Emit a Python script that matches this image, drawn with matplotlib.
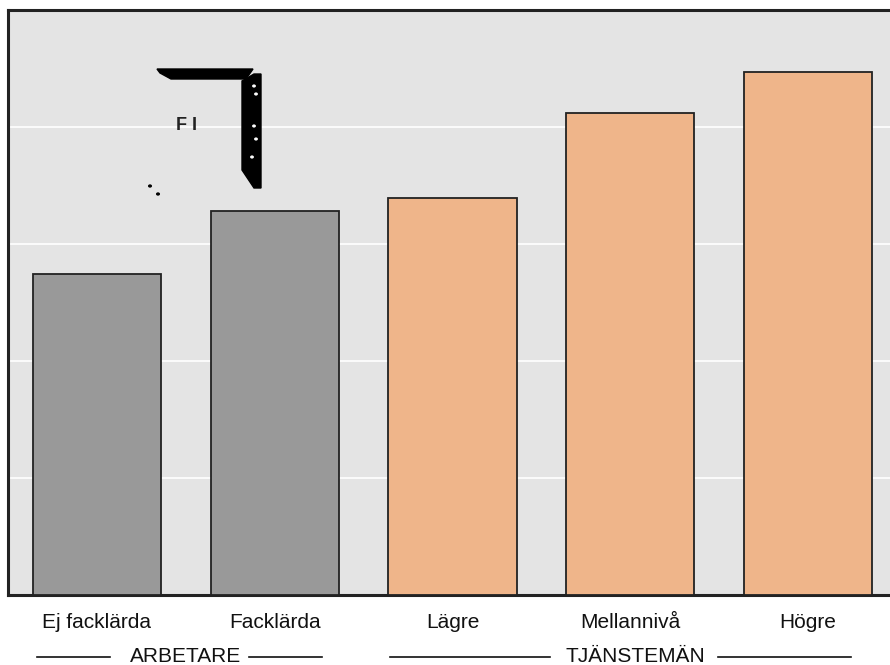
import matplotlib.pyplot as plt
from matplotlib.patches import Polygon, Circle
from matplotlib.lines import Line2D
import matplotlib.transforms as mtransforms

plt.rcParams['font.family'] = ['Liberation Sans', 'DejaVu Sans']

# data
categories = ['Ej facklärda', 'Facklärda', 'Lägre', 'Mellannivå', 'Högre']
values = [27.4, 32.8, 33.9, 41.2, 44.7]
groups = ['ARBETARE', 'ARBETARE', 'TJÄNSTEMÄN', 'TJÄNSTEMÄN', 'TJÄNSTEMÄN']
group_colors = {'ARBETARE': '#999999', 'TJÄNSTEMÄN': '#efb58a'}

W, H = 890, 665
fig = plt.figure(figsize=(W / 100, H / 100), dpi=100)
ax = fig.add_axes([8 / W, 70 / H, 889 / W, 585 / H])
ax.set_facecolor('#e4e4e4')

x = list(range(len(categories)))
colors = [group_colors[g] for g in groups]
ax.bar(x, values, width=0.72, color=colors, edgecolor='#222222', linewidth=1.3, zorder=3)

ax.set_xlim(-0.5, 4.5)
ax.set_ylim(0, 50)
ax.set_yticks([10, 20, 30, 40])
ax.set_yticklabels([])
ax.yaxis.grid(True, color='white', linewidth=1.2, zorder=0)
ax.tick_params(axis='both', length=0)
ax.set_xticks(x)
ax.set_xticklabels(categories, fontsize=15, color='#111111')
ax.tick_params(axis='x', pad=13)
for s in ax.spines.values():
    s.set_color('#222222')
    s.set_linewidth(2.2)

# group labels with side rules
trans = mtransforms.blended_transform_factory(ax.transData, fig.transFigure)
y_grp = (H - 657) / H
group_layout = [
    ('ARBETARE', 0.5, [(-0.338, 0.073), (0.855, 1.266)]),
    ('TJÄNSTEMÄN', 3.03, [(1.648, 2.549), (3.494, 4.242)]),
]
for name, cx, segs in group_layout:
    fig.text(cx, y_grp, name, transform=trans, ha='center', va='center',
             fontsize=15, color='#111111')
    for a, b in segs:
        fig.add_artist(Line2D([a, b], [y_grp, y_grp], transform=trans,
                              color='#111111', linewidth=1.2))

# scanned mark in the upper left
def px(pts):
    return [(u / W, (H - v) / H) for u, v in pts]

fig.add_artist(Polygon(px([(157, 69), (253, 69), (246, 79), (171, 79), (160, 73)]),
                       closed=True, color='black', transform=fig.transFigure))
fig.add_artist(Polygon(px([(254, 74), (261, 74), (261, 188), (254, 188), (242, 170), (242, 81)]),
                       closed=True, color='black', transform=fig.transFigure))
for u, v in [(254, 86), (256, 94), (254, 126), (256, 139), (252, 157)]:
    fig.add_artist(Circle((u / W, (H - v) / H), 1.2 / W, color='white',
                          transform=fig.transFigure))
for u, v in [(150, 186), (158, 194)]:
    fig.add_artist(Circle((u / W, (H - v) / H), 1.3 / W, color='black',
                          transform=fig.transFigure))
fig.text(187 / W, (H - 125) / H, 'F I', ha='center', va='center', fontsize=13,
         fontweight='bold', color='#222222')

fig.savefig('out.png', dpi=100)
